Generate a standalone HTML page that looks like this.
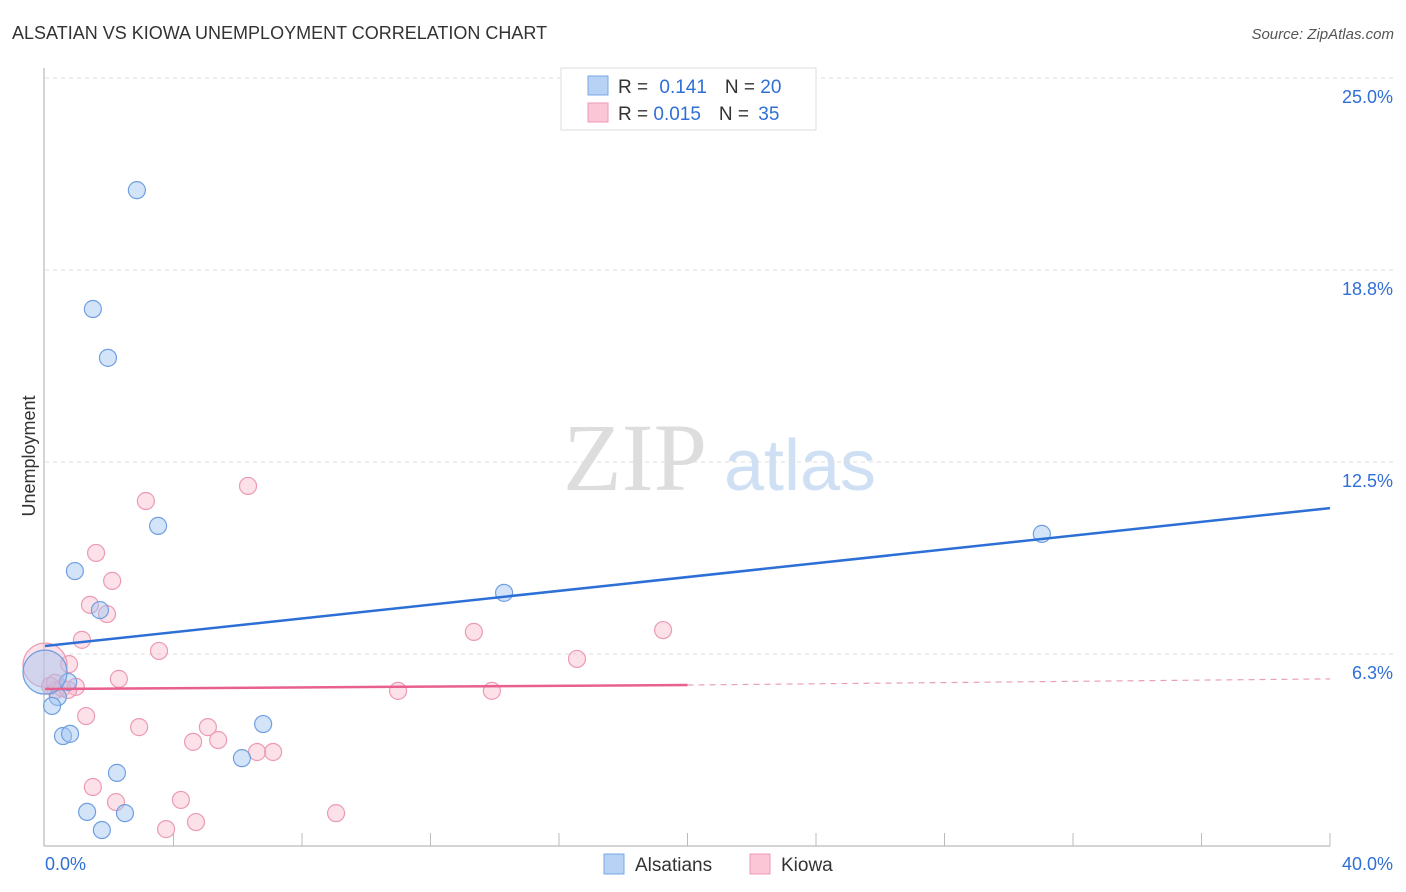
<!DOCTYPE html>
<html><head><meta charset="utf-8"><style>
body{margin:0;background:#fff;font-family:"Liberation Sans",sans-serif}
svg{display:block}
</style></head><body>
<svg id="chart" width="1406" height="892" xmlns="http://www.w3.org/2000/svg">
<text x="12" y="39" font-size="18" fill="#333">ALSATIAN VS KIOWA UNEMPLOYMENT CORRELATION CHART</text>
<text x="1394" y="39" font-size="15" fill="#555" font-style="italic" text-anchor="end">Source: ZipAtlas.com</text>
<text x="35" y="456" font-size="18" fill="#333" text-anchor="middle" transform="rotate(-90 35 456)">Unemployment</text>
<g>
<text x="635" y="490" font-size="96" font-family="Liberation Serif,serif" fill="#ddd" text-anchor="middle">ZIP</text>
<text x="800" y="490" font-size="72" fill="#cfe0f5" text-anchor="middle">atlas</text></g>
<g id="grid"></g><g id="axes"></g><g id="marks"></g>
<g>
<rect x="561" y="68" width="255" height="62" fill="#fff" stroke="#ddd"/>
<rect x="588" y="76" width="20" height="19" fill="#b7d2f4" stroke="#7aa8e6"/>
<rect x="588" y="103" width="20" height="19" fill="#fbc7d6" stroke="#ee9ab4"/>
<text x="618" y="93" font-size="19" fill="#333">R = <tspan fill="#2f6fd6" dx="6">0.141</tspan><tspan fill="#333" dx="18">N = </tspan><tspan fill="#2f6fd6">20</tspan></text>
<text x="618" y="120" font-size="19" fill="#333">R = <tspan fill="#2f6fd6">0.015</tspan><tspan fill="#333" dx="18">N = </tspan><tspan fill="#2f6fd6" dx="4">35</tspan></text>
</g>
<g>
<rect x="604" y="854" width="20" height="20" fill="#b7d2f4" stroke="#7aa8e6"/>
<text x="635" y="871" font-size="19" fill="#333">Alsatians</text>
<rect x="750" y="854" width="20" height="20" fill="#fbc7d6" stroke="#ee9ab4"/>
<text x="781" y="871" font-size="19" fill="#333">Kiowa</text></g>
</svg>
<script>
const yTicks=[25,18.75,12.5,6.25];
const yTickLabels=["25.0%","18.8%","12.5%","6.3%"];
const xTicks=[0,4,8,12,16,20,24,28,32,36,40];
const blueX=[2.86,1.49,1.96,3.52,0.93,1.71,14.29,31.03,0.72,0.40,0.22,0.56,0.78,6.79,2.24,6.13,1.31,2.49,1.77,0];
const blueY=[21.35,17.48,15.89,10.42,8.95,7.68,8.24,10.16,5.34,4.85,4.56,3.58,3.65,3.97,2.38,2.86,1.11,1.07,0.52,5.66];
const pinkX=[6.32,3.14,1.59,2.09,1.40,1.93,1.15,3.55,13.35,19.24,16.56,0.75,2.30,0.96,10.99,13.91,0.34,1.28,2.93,5.07,4.61,5.39,6.60,7.10,1.49,2.21,4.23,9.06,3.77,4.70,0,0.16,0.53,0.72,0.31];
const pinkY=[11.72,11.23,9.54,8.63,7.85,7.55,6.71,6.35,6.97,7.03,6.09,5.92,5.44,5.18,5.05,5.05,5.08,4.23,3.87,3.87,3.39,3.45,3.06,3.06,1.92,1.43,1.50,1.07,0.55,0.78,5.89,5.21,5.14,5.08,5.31];
const blueTrend=[6.51,11.0];
const pinkTrend=[5.11,5.24,5.44];
const X=v=>45+v/40*1285, Y=v=>846-v/6.25*192;
const NS="http://www.w3.org/2000/svg";
function mk(t,a,p){const e=document.createElementNS(NS,t);for(const k in a)e.setAttribute(k,a[k]);document.getElementById(p).appendChild(e);return e;}
yTicks.forEach((t,i)=>{
 const l=mk('line',{x1:45,x2:1394,y1:Y(t),y2:Y(t),stroke:'#ddd','stroke-dasharray':'4 4'},'grid');
 
 
 const tx=mk('text',{x:1393,y:Y(t)+25,'font-size':18,fill:'#2f6fd6','text-anchor':'end'},'axes');
 tx.textContent=yTickLabels[i];
 
 
});
const ya=mk('line',{x1:44,x2:44,y1:68,y2:846,stroke:'#aaa'},'axes');


const xa=mk('line',{x1:44,x2:1330,y1:846,y2:846,stroke:'#aaa'},'axes');


xTicks.slice(1).forEach(t=>{const l=mk('line',{x1:X(t),x2:X(t),y1:833,y2:846,stroke:'#bbb'},'axes');
 
 });
[[0,"0.0%",45,'start'],[40,"40.0%",1393,'end']].forEach(d=>{const t=mk('text',{x:d[2],y:870,'font-size':18,fill:'#2f6fd6','text-anchor':d[3]},'axes');t.textContent=d[1];
 
 });
pinkX.forEach((x,i)=>{const c=mk('circle',{cx:X(x),cy:Y(pinkY[i]),r:x===0?22:8.5,fill:'rgba(248,180,200,0.4)',stroke:'#ec9ab4','stroke-width':1.2},'marks');
 
 });
blueX.forEach((x,i)=>{const c=mk('circle',{cx:X(x),cy:Y(blueY[i]),r:x===0?22:8.5,fill:'rgba(160,195,240,0.45)',stroke:'#6f9fe0','stroke-width':1.2},'marks');
 
 });
const bt=mk('line',{x1:X(0),y1:Y(blueTrend[0]),x2:X(40),y2:Y(blueTrend[1]),stroke:'#2c6fd6','stroke-width':2.5},'marks');


const pt=mk('line',{x1:X(0),y1:Y(pinkTrend[0]),x2:X(20),y2:Y(pinkTrend[1]),stroke:'#e8608e','stroke-width':2.5},'marks');


const pd=mk('line',{x1:X(20),y1:Y(pinkTrend[1]),x2:X(40),y2:Y(pinkTrend[2]),stroke:'#e8a0b8','stroke-width':1.2,'stroke-dasharray':'6 5'},'marks');


</script>
</body></html>
